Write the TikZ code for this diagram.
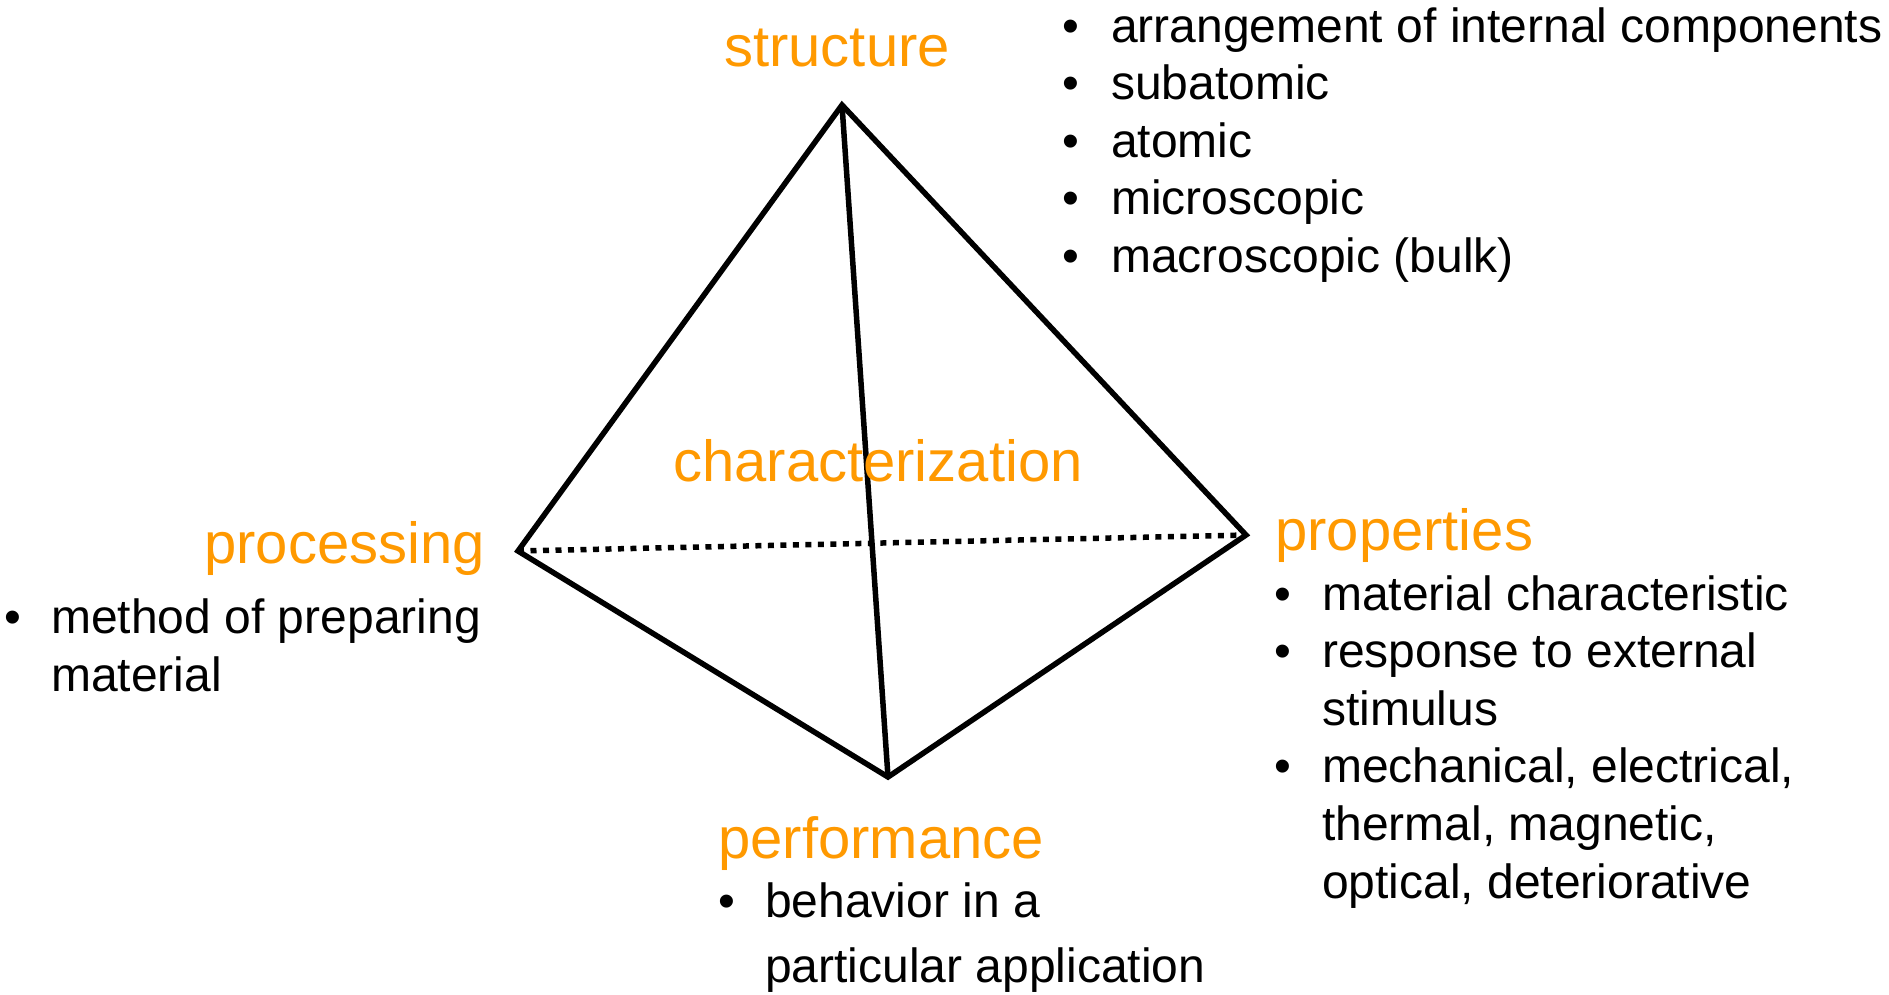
\documentclass[tikz,border=0pt]{standalone}
\usepackage{fontspec}
\setmainfont{Liberation Sans}
\definecolor{accent}{HTML}{FF9900}
\begin{document}
\begin{tikzpicture}[x=1pt,y=-1pt,
  edge/.style={line width=5.5pt,line join=miter,black},
  hidden/.style={line width=5.5pt,black,dash pattern=on 6pt off 6.5pt},
  corner/.style={font=\fontsize{58}{70}\selectfont,text=accent,inner sep=0pt},
  itemtext/.style={font=\fontsize{48}{57.6}\selectfont,inner sep=0pt,anchor=base west},
  dot/.style={font=\fontsize{48}{57.6}\selectfont,inner sep=0pt,anchor=base}]
\useasboundingbox (0,0) rectangle (1889,994);

% tetrahedron corners
\coordinate (S) at (842,105);
\coordinate (P) at (518,551);
\coordinate (R) at (1246,535);
\coordinate (F) at (888,777);

% hidden back edge, then the visible edges
\draw[hidden] (P) -- (R);
\draw[edge] (S) -- (P) -- (F) -- (R) -- cycle;
\draw[edge] (S) -- (F);

% corner labels
\node[corner,anchor=base west] (structure) at (724,66) {structure};
\node[corner,anchor=base west] (charact) at (673,481) {characterization};
\node[corner,anchor=base east] (processing) at (485,563) {processing};
\node[corner,anchor=base west] (properties) at (1275,550) {properties};
\node[corner,anchor=base west] (performance) at (718,858) {performance};

% structure list
\foreach \t [count=\i] in {arrangement of internal components,subatomic,atomic,microscopic,macroscopic (bulk)}{
  \node[dot] (sb\i) at (1071,{42+57.6*(\i-1)}) {•};
  \node[itemtext] (st\i) at (1111,{42+57.6*(\i-1)}) {\t};
}

% processing list
\node[dot] (pb1) at (13,633) {•};
\node[itemtext] (pt1) at (51,633) {method of preparing};
\node[itemtext] (pt2) at (51,691) {material};

% properties list
\node[dot] (rb1) at (1283,610) {•};
\node[itemtext] (rt1) at (1322,610) {material characteristic};
\node[dot] (rb2) at (1283,667.6) {•};
\node[itemtext] (rt2) at (1322,667.6) {response to external};
\node[itemtext] (rt3) at (1322,725.2) {stimulus};
\node[dot] (rb3) at (1283,782.8) {•};
\node[itemtext] (rt4) at (1322,782.8) {mechanical, electrical,};
\node[itemtext] (rt5) at (1322,840.4) {thermal, magnetic,};
\node[itemtext] (rt6) at (1322,898) {optical, deteriorative};

% performance list
\node[dot] (fb1) at (727,917) {•};
\node[itemtext] (ft1) at (765,917) {behavior in a};
\node[itemtext] (ft2) at (765,982) {particular application};
\end{tikzpicture}
\end{document}
